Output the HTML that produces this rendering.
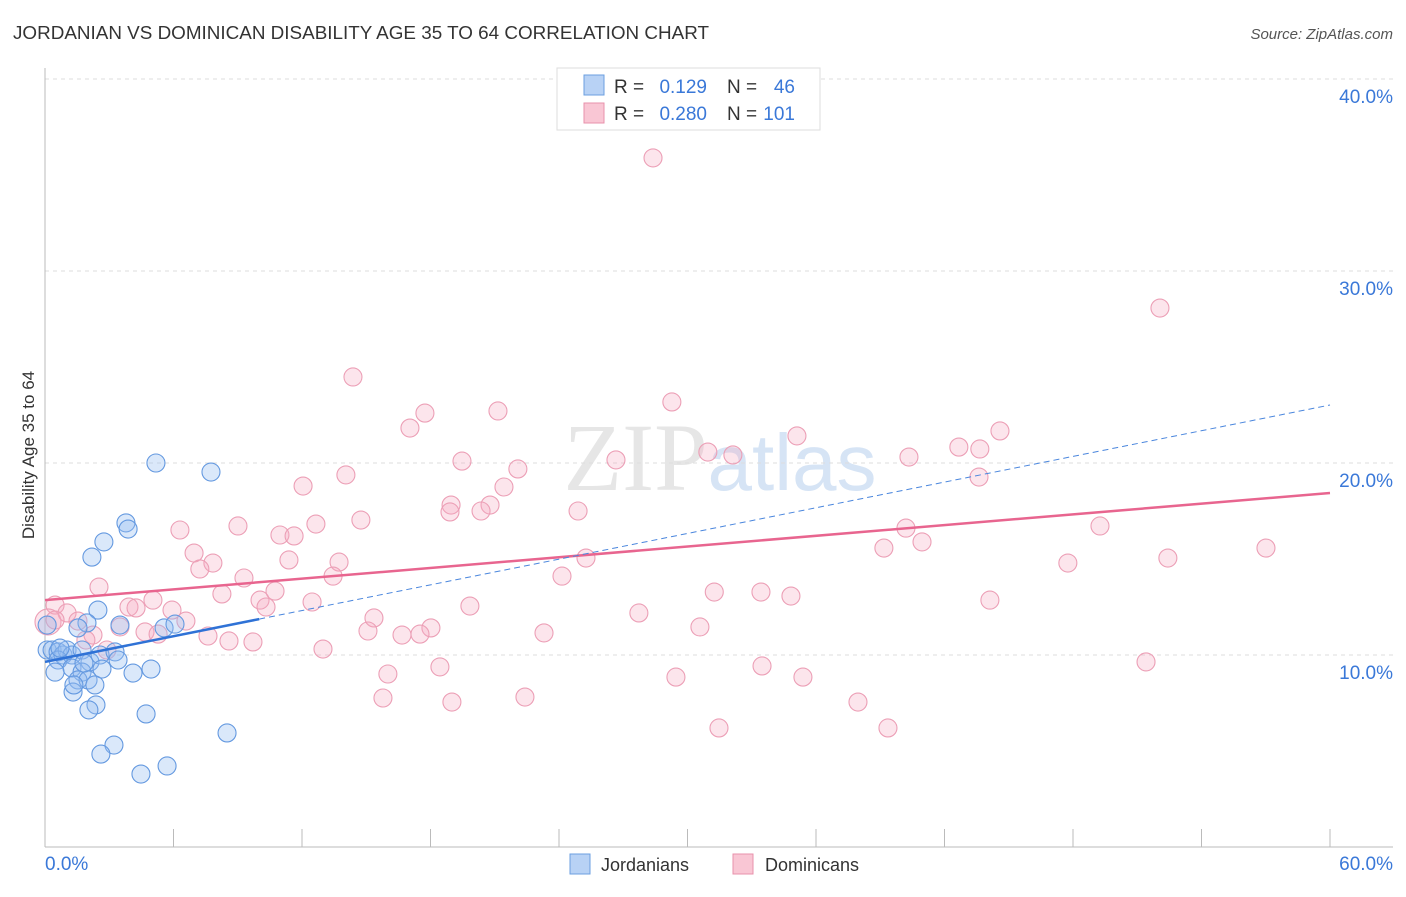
<!DOCTYPE html>
<html><head><meta charset="utf-8"><style>
body{margin:0;background:#fff;font-family:"Liberation Sans",sans-serif}
</style></head><body>
<svg width="1406" height="892" xmlns="http://www.w3.org/2000/svg">
<text x="13" y="39" font-size="18" fill="#333" textLength="696" lengthAdjust="spacingAndGlyphs">JORDANIAN VS DOMINICAN DISABILITY AGE 35 TO 64 CORRELATION CHART</text>
<text x="1393" y="39" font-size="15" fill="#555" text-anchor="end" font-style="italic">Source: ZipAtlas.com</text>
<text x="720" y="490" font-size="96" fill="#e6e6e6" text-anchor="middle" font-family="Liberation Serif,serif">ZIP<tspan fill="#d6e4f5" font-family="Liberation Sans,sans-serif" font-size="80">atlas</tspan></text>
<g id="grid"></g>
<g id="axes"></g>
<g id="pts"></g>
<g id="lines"></g>
<text x="34" y="455" font-size="17" fill="#333" text-anchor="middle" transform="rotate(-90 34 455)">Disability Age 35 to 64</text>
<g>
<rect x="557" y="68" width="263" height="62" fill="#fff" stroke="#ddd"/>
<rect x="584" y="75" width="20" height="20" fill="#b8d2f5" stroke="#6b9fe0"/>
<text x="614" y="93" font-size="19" fill="#333">R =</text>
<text x="707" y="93" font-size="19" fill="#3a78d8" text-anchor="end">0.129</text>
<text x="727" y="93" font-size="19" fill="#333">N =</text>
<text x="795" y="93" font-size="19" fill="#3a78d8" text-anchor="end">46</text>
<rect x="584" y="103" width="20" height="20" fill="#f9c6d4" stroke="#e891ab"/>
<text x="614" y="120" font-size="19" fill="#333">R =</text>
<text x="707" y="120" font-size="19" fill="#3a78d8" text-anchor="end">0.280</text>
<text x="727" y="120" font-size="19" fill="#333">N =</text>
<text x="795" y="120" font-size="19" fill="#3a78d8" text-anchor="end">101</text>
</g>
<g>
<rect x="570" y="854" width="20" height="20" fill="#b8d2f5" stroke="#6b9fe0"/>
<text x="601" y="871" font-size="18" fill="#333">Jordanians</text>
<rect x="733" y="854" width="20" height="20" fill="#f9c6d4" stroke="#e891ab"/>
<text x="765" y="871" font-size="18" fill="#333">Dominicans</text>
</g>
</svg>
<script>
const xTicks=[0,6,12,18,24,30,36,42,48,54,60];
const yTicks=[10,20,30,40];
const blueX=[5.18,7.75,3.78,3.88,2.75,2.19,2.47,1.96,1.54,3.5,5.56,6.07,0.1,0.33,0.61,0.84,1.03,1.26,0.61,1.73,2.1,2.57,3.27,3.41,1.26,1.73,2.66,4.11,4.95,0.47,1.54,2.01,2.33,1.31,1.35,2.38,2.05,4.72,8.5,3.22,2.61,5.7,4.48,0.1,1.82,0.7];
const blueY=[20.0,19.53,16.88,16.56,15.89,15.1,12.34,11.67,11.41,11.56,11.41,11.61,10.26,10.26,10.16,10.0,10.26,10.0,9.74,10.26,9.64,10.0,10.16,9.74,9.32,9.11,9.27,9.06,9.27,9.11,8.7,8.7,8.44,8.07,8.44,7.4,7.14,6.93,5.94,5.31,4.84,4.22,3.8,11.56,9.58,10.36];
const pinkX=[28.39,52.06,14.38,29.27,21.15,17.74,17.04,35.11,44.59,42.67,43.65,30.95,32.12,40.34,19.47,26.66,22.08,14.05,43.61,12.05,21.43,18.96,20.78,20.36,18.91,24.89,14.75,9.01,12.65,6.3,49.26,40.2,10.97,11.63,40.95,39.17,57.01,6.96,11.39,13.73,25.26,52.43,47.76,7.84,7.23,24.14,13.45,9.29,2.52,31.25,33.43,34.83,10.74,8.26,10.04,5.04,44.12,12.47,19.84,3.92,4.25,10.32,0.47,5.93,27.73,1.03,15.36,1.54,6.58,0.14,3.5,30.58,18.02,15.08,4.67,16.67,17.51,23.3,5.28,2.24,7.61,1.91,8.59,9.71,2.89,12.98,51.41,33.48,18.44,16.01,29.46,35.39,15.78,19.0,22.41,37.96,31.47,39.36,0.47];
const pinkY=[35.89,28.07,24.48,23.18,22.71,22.6,21.82,21.41,21.67,20.83,20.73,20.57,20.42,20.31,20.1,20.16,19.69,19.38,19.27,18.8,18.75,17.81,17.81,17.5,17.45,17.5,17.03,16.72,16.82,16.51,16.72,16.61,16.25,16.2,15.89,15.57,15.57,15.31,14.95,14.84,15.05,15.05,14.79,14.79,14.48,14.11,14.11,14.01,13.54,13.28,13.28,13.07,13.33,13.18,12.86,12.86,12.86,12.76,12.55,12.5,12.45,12.5,12.6,12.34,12.19,12.19,11.93,11.77,11.77,11.72,11.46,11.46,11.41,11.25,11.2,11.04,11.09,11.15,11.09,11.04,10.99,10.78,10.73,10.68,10.26,10.31,9.64,9.43,9.38,9.01,8.85,8.85,7.76,7.55,7.81,7.55,6.2,6.2,11.82];
const blueLine=[9.64,0.223];
const pinkLine=[12.86,0.093];
const sx=v=>45+v/60*1285, sy=v=>847-v*19.2;
const NS='http://www.w3.org/2000/svg';
function mk(p,t,a){const e=document.createElementNS(NS,t);for(const k in a)e.setAttribute(k,a[k]);document.getElementById(p).appendChild(e);return e;}
yTicks.forEach(v=>{
 const l=mk('grid','line',{x1:45,x2:1393,y1:sy(v),y2:sy(v),stroke:'#ddd','stroke-dasharray':'4 4'});
 
 
 const t=mk('grid','text',{x:1393,y:sy(v)+24,'font-size':19,fill:'#3a78d8','text-anchor':'end'});t.textContent=v.toFixed(1)+'%';
 
 
});
const al=mk('axes','line',{x1:45,x2:45,y1:68,y2:847,stroke:'#bbb'});


const bl=mk('axes','line',{x1:45,x2:1393,y1:847,y2:847,stroke:'#bbb'});


xTicks.forEach(v=>{const t=mk('axes','line',{x1:sx(v),x2:sx(v),y1:829,y2:847,stroke:'#bbb'});
 
 });
[[0,'start'],[60,'end']].forEach(([v,a])=>{const t=mk('axes','text',{x:v==0?45:1393,y:870,'font-size':19,fill:'#3a78d8','text-anchor':a});t.textContent=v.toFixed(1)+'%';
 
 });
pinkX.forEach((x,i)=>{const c=mk('pts','circle',{cx:sx(x),cy:sy(pinkY[i]),r:(i==69?13:9),fill:'rgba(244,170,192,0.3)',stroke:'#ec9fb6','stroke-width':1.1});
 
 });
blueX.forEach((x,i)=>{const c=mk('pts','circle',{cx:sx(x),cy:sy(blueY[i]),r:9,fill:'rgba(150,190,240,0.35)',stroke:'#6499e0','stroke-width':1.1});
 
 });
const pl=mk('lines','line',{x1:sx(0),y1:sy(pinkLine[0]),x2:sx(60),y2:sy(pinkLine[0]+pinkLine[1]*60),stroke:'#e8658f','stroke-width':2.5});


const b1=mk('lines','line',{x1:sx(0),y1:sy(blueLine[0]),x2:sx(10),y2:sy(blueLine[0]+blueLine[1]*10),stroke:'#2f72d6','stroke-width':2.5});


const b2=mk('lines','line',{x1:sx(10),y1:sy(blueLine[0]+blueLine[1]*10),x2:sx(60),y2:sy(blueLine[0]+blueLine[1]*60),stroke:'#4a86dd','stroke-width':1,'stroke-dasharray':'6 4'});


</script>
</body></html>
